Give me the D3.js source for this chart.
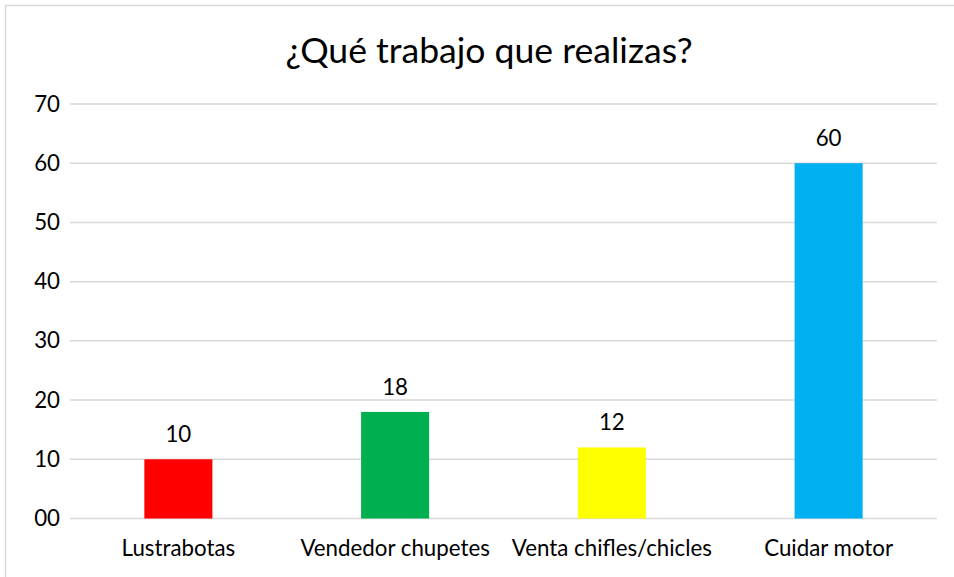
<!DOCTYPE html>
<html>
<head>
<meta charset="utf-8">
<script src="https://cdn.jsdelivr.net/npm/d3@7"></script>
<style>
  body { margin: 0; background: #fff; }
  text { font-family: Lato, "Noto Sans", sans-serif; fill: #000; }
</style>
</head>
<body>
<div id="chart"></div>
<script>
/**
 * DATA
 **/
const categories = ["Lustrabotas", "Vendedor chupetes", "Venta chifles/chicles", "Cuidar motor"];
const values = [10, 18, 12, 60];
const barColors = ["#ff0000", "#00b050", "#ffff00", "#00b0f0"];
const yTicks = [0, 10, 20, 30, 40, 50, 60, 70];
const title = "¿Qué trabajo que realizas?";

/**
 * CONSTANTS
 **/
const width = 954, height = 577;
const margin = { top: 104, bottom: 58.5, left: 70, right: 17 };
const fontSize = 22.3;

const svg = d3.select("#chart")
  .append("svg")
  .attr("width", width)
  .attr("height", height);

// chart area border (runs off the right / bottom edge like the source)
svg.append("rect")
  .attr("x", 5.5).attr("y", 5.5)
  .attr("width", width + 20).attr("height", height + 20)
  .attr("fill", "#fff")
  .attr("stroke", "#d9d9d9")
  .attr("stroke-width", 1.5);

// scales
const xScale = d3.scaleBand()
  .domain(categories)
  .range([margin.left, width - margin.right])
  .paddingInner(0.686)
  .paddingOuter(0.343);

const yScale = d3.scaleLinear()
  .domain([0, 70])
  .range([height - margin.bottom, margin.top]);

// gridlines
svg.append("g")
  .selectAll("line")
  .data(yTicks)
  .join("line")
  .attr("x1", margin.left)
  .attr("x2", width - margin.right)
  .attr("y1", d => yScale(d))
  .attr("y2", d => yScale(d))
  .attr("stroke", "#d9d9d9")
  .attr("stroke-width", 1.5);

// y axis labels
const yAxis = d3.axisLeft(yScale)
  .tickValues(yTicks)
  .tickSize(0)
  .tickPadding(10)
  .tickFormat(d3.format("02d"));

svg.append("g")
  .attr("class", "y-axis")
  .attr("transform", `translate(${margin.left}, 0)`)
  .call(yAxis)
  .call(g => g.select(".domain").remove())
  .selectAll("text")
  .attr("font-size", fontSize)
  .attr("font-family", "Lato, sans-serif")
  .attr("fill", "#000");

// x axis labels
const xAxis = d3.axisBottom(xScale).tickSize(0).tickPadding(22);

svg.append("g")
  .attr("class", "x-axis")
  .attr("transform", `translate(0, ${height - margin.bottom})`)
  .call(xAxis)
  .call(g => g.select(".domain").remove())
  .selectAll("text")
  .attr("font-size", fontSize)
  .attr("font-family", "Lato, sans-serif")
  .attr("fill", "#000");

// bars
svg.append("g")
  .selectAll("rect")
  .data(values)
  .join("rect")
  .attr("x", (d, i) => xScale(categories[i]))
  .attr("y", d => yScale(d))
  .attr("width", xScale.bandwidth())
  .attr("height", d => yScale(0) - yScale(d))
  .attr("fill", (d, i) => barColors[i]);

// value labels
svg.append("g")
  .selectAll("text")
  .data(values)
  .join("text")
  .attr("x", (d, i) => xScale(categories[i]) + xScale.bandwidth() / 2)
  .attr("y", d => yScale(d) - 17)
  .attr("text-anchor", "middle")
  .attr("font-size", fontSize)
  .text(d => d);

// title
svg.append("text")
  .attr("x", 489)
  .attr("y", 63)
  .attr("text-anchor", "middle")
  .attr("font-size", 35.6)
  .text(title);
</script>
</body>
</html>
